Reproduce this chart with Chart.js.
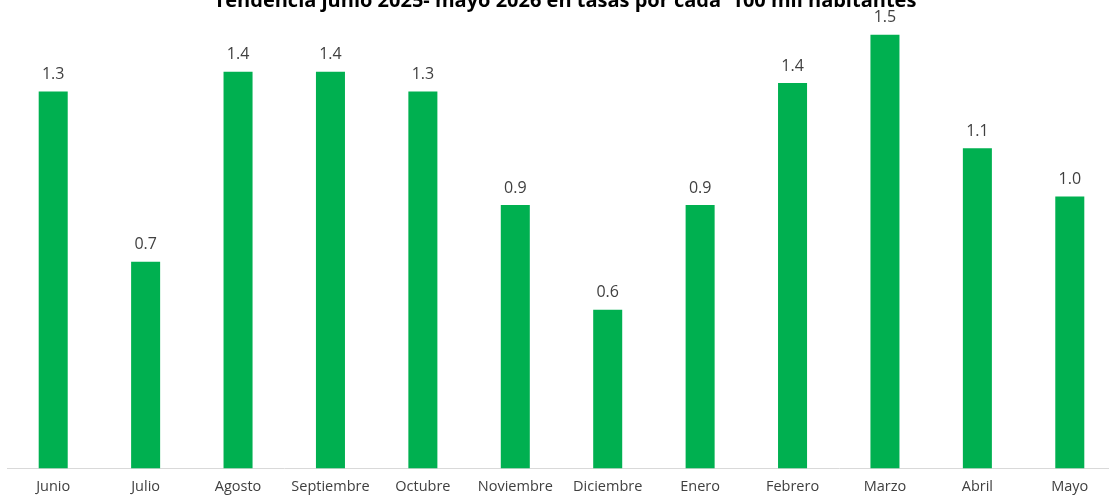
<!DOCTYPE html>
<html>
<head>
<meta charset="utf-8">
<script src="https://cdn.jsdelivr.net/npm/chart.js@4/dist/chart.umd.min.js"></script>
<style>
  html, body { margin: 0; padding: 0; background: #fff; overflow: hidden; }
  #wrap { position: absolute; left: 0; top: 0; width: 1116px; height: 507px; }
</style>
</head>
<body>
<div id="wrap"><canvas id="tasas"></canvas></div>
<script>
const titulo = 'Tendencia junio 2025- mayo 2026 en tasas por cada  100 mil habitantes';
const meses = ['Junio', 'Julio', 'Agosto', 'Septiembre', 'Octubre', 'Noviembre',
  'Diciembre', 'Enero', 'Febrero', 'Marzo', 'Abril', 'Mayo'];
const tasas = [1.33, 0.73, 1.40, 1.40, 1.33, 0.93, 0.56, 0.93, 1.36, 1.53, 1.13, 0.96];

// etiquetas encima de cada barra
const etiquetas = {
  id: 'etiquetas',
  afterDatasetsDraw(chart) {
    const ctx = chart.ctx;
    ctx.save();
    ctx.font = '16px "Open Sans", sans-serif';
    ctx.fillStyle = '#404040';
    ctx.textAlign = 'center';
    ctx.textBaseline = 'middle';
    chart.getDatasetMeta(0).data.forEach((bar, i) => {
      ctx.fillText(tasas[i].toFixed(1), bar.x, bar.y - 17);
    });
    ctx.restore();
  }
};

const tituloArriba = {
  id: 'tituloArriba',
  afterDraw(chart) {
    const ctx = chart.ctx;
    ctx.save();
    ctx.font = 'bold 20px "Open Sans", sans-serif';
    ctx.fillStyle = '#000';
    ctx.textAlign = 'center';
    ctx.textBaseline = 'middle';
    ctx.fillText(titulo, 565, 1);
    ctx.restore();
  }
};

new Chart(document.getElementById('tasas'), {
  type: 'bar',
  data: {
    labels: meses,
    datasets: [{
      data: tasas,
      backgroundColor: '#00B050',
      barPercentage: 1,
      categoryPercentage: 0.314
    }]
  },
  options: {
    responsive: true,
    maintainAspectRatio: false,
    animation: false,
    layout: { padding: { top: 15, left: 7, right: 0, bottom: 1 } },
    plugins: { legend: { display: false }, tooltip: { enabled: false } },
    scales: {
      x: {
        grid: { display: false, drawTicks: false },
        border: { color: '#d9d9d9' },
        ticks: { color: '#404040', font: { family: '"Open Sans", sans-serif', size: 14.5 }, padding: 10 }
      },
      y: { display: false, min: 0, max: 1.6 }
    }
  },
  plugins: [etiquetas, tituloArriba]
});
</script>
</body>
</html>
